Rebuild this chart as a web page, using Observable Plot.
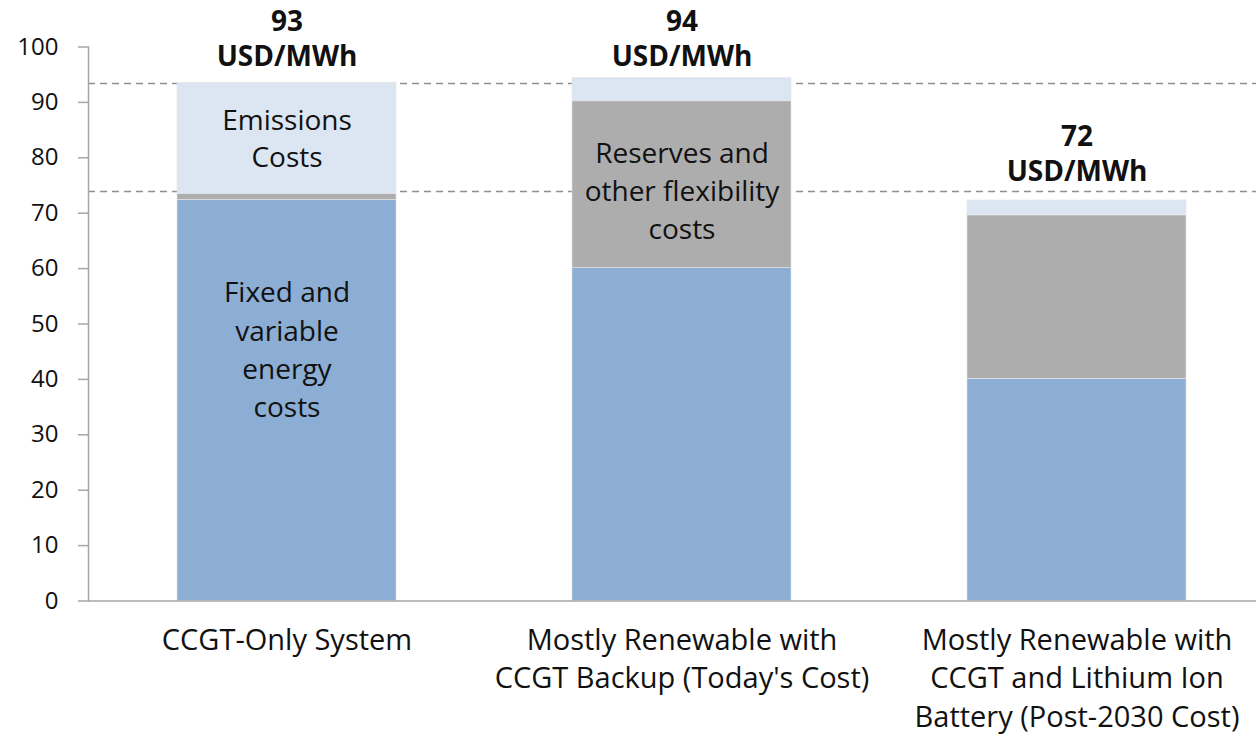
<!DOCTYPE html>
<html>
<head>
<meta charset="utf-8">
<script src="https://cdn.jsdelivr.net/npm/d3@7"></script>
<script src="https://cdn.jsdelivr.net/npm/@observablehq/plot@0.6"></script>
<style>
  html, body { margin: 0; padding: 0; background: #fff; }
  #chart svg { display: block; }
</style>
</head>
<body>
<div id="chart"></div>
<script>
const categories = [
  "CCGT-Only System",
  "Mostly Renewable with\nCCGT Backup (Today's Cost)",
  "Mostly Renewable with\nCCGT and Lithium Ion\nBattery (Post-2030 Cost)"
];
const components = ["Fixed and variable energy costs", "Reserves and other flexibility costs", "Emissions Costs"];
const energy = [72.4, 60.1, 40.1];
const flexibility = [1.1, 30.1, 29.5];
const emissions = [20.0, 4.2, 2.7];
const totalLabels = ["93", "94", "72"];
const referenceLines = [93.4, 73.9];
const yTicks = [0, 10, 20, 30, 40, 50, 60, 70, 80, 90, 100];
const colors = ["#8cadd4", "#adadad", "#dce6f2"];

const series = [energy, flexibility, emissions];
const rows = [];
categories.forEach((c, i) => {
  components.forEach((k, j) => rows.push({category: c, component: k, value: series[j][i]}));
});
const totals = categories.map((c, i) => ({
  category: c,
  total: energy[i] + flexibility[i] + emissions[i],
  label: totalLabels[i]
}));
const labelY = totals.map(d => ({...d, y: Math.min(d.total + 5, 98)}));

const font = "'Open Sans', 'Noto Sans', sans-serif";
const chart = Plot.plot({
  width: 1256,
  height: 737,
  marginTop: 46.5,
  marginBottom: 136.5,
  marginLeft: 88,
  marginRight: 0,
  style: {fontFamily: font, color: "#111", background: "#fff"},
  x: {domain: categories, range: [88, 1274.5], paddingInner: 0.446, paddingOuter: 0.223, label: null},
  y: {domain: [0, 100], label: null},
  color: {domain: components, range: colors},
  marks: [
    Plot.ruleY(referenceLines, {stroke: "#8f8f8f", strokeWidth: 1.5, strokeDasharray: "7,5"}),
    Plot.barY(rows, Plot.stackY({x: "category", y: "value", fill: "component", order: components, stroke: "#e4e4e4", strokeWidth: 0.6})),
    Plot.frame({anchor: "left", stroke: "#a6a6a6", strokeWidth: 1.5}),
    Plot.ruleY([0], {stroke: "#a6a6a6", strokeWidth: 1.5}),
    Plot.axisY({ticks: yTicks, tickSize: 10, tickPadding: 20, fontSize: 24, stroke: "#a6a6a6", strokeWidth: 1.5, fill: "#111"}),
    Plot.axisX({tickSize: 0, tickPadding: 22, fontSize: 29, lineHeight: 1.32, fill: "#111", textAnchor: "middle"}),
    Plot.text(labelY, {x: "category", y: "y", text: d => d.label + "\nUSD/MWh", fontSize: 28, fontWeight: "bold", lineAnchor: "bottom", lineHeight: 1.25, fill: "#111", dy: 8}),
    Plot.text([categories[0]], {x: d => d, y: () => (energy[0] + flexibility[0]) + emissions[0] / 2, text: () => "Emissions\nCosts", fontSize: 28, lineHeight: 1.34, fill: "#111", dy: -2}),
    Plot.text([categories[0]], {x: d => d, y: () => energy[0] / 2, text: () => "Fixed and\nvariable\nenergy\ncosts", fontSize: 28, lineHeight: 1.37, fill: "#111", dy: -53}),
    Plot.text([categories[1]], {x: d => d, y: () => energy[1] + flexibility[1] / 2, text: () => "Reserves and\nother flexibility\ncosts", fontSize: 28, lineHeight: 1.37, fill: "#111", dy: 4})
  ]
});
document.getElementById("chart").appendChild(chart);
</script>
</body>
</html>
